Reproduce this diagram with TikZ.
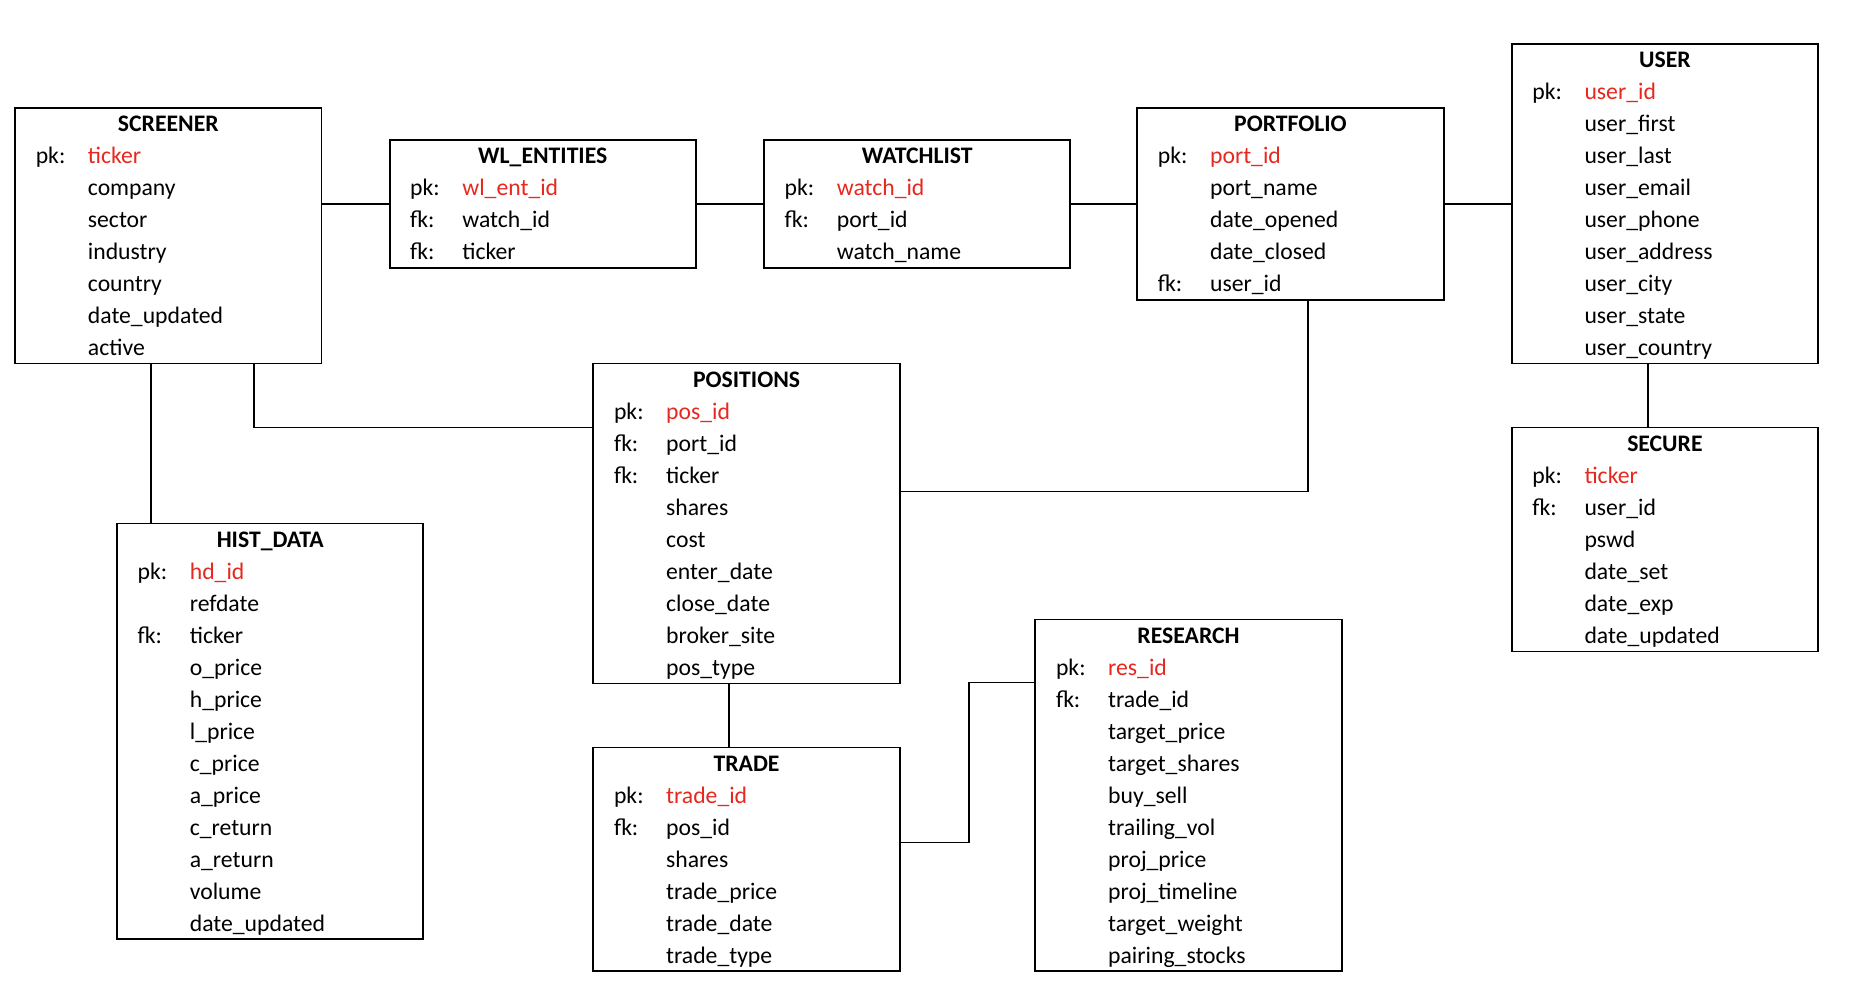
\documentclass[tikz,border=0pt]{standalone}
\usepackage{fontspec}
\setmainfont{Carlito}
\usetikzlibrary{calc}
\definecolor{pkred}{RGB}{230,40,30}
\tikzset{
  tbl/.style={draw, line width=1.6pt, minimum width=258.5pt, inner sep=0pt, anchor=north west},
  ttl/.style={font=\bfseries\fontsize{20}{24}\selectfont, anchor=base, inner sep=0pt},
  fld/.style={font=\fontsize{20}{24}\selectfont, anchor=base west, inner sep=0pt},
  pkf/.style={fld, text=pkred},
  key/.style={fld},
  link/.style={line width=1.6pt},
}
% table box: name, left, top, number of lines (title included), title
\newcommand\ertab[5]{%
  \node[tbl, minimum height={#4*27pt}] (#1) at (#2,-#3) {};
  \node[ttl] (#1-t) at ($(#1.north)+(0,-21)$) {#5};}
% field row: table, row index, key label (may be empty), field name, style
\newcommand\erfld[5]{%
  \node[#5] (#1-#2) at ($(#1.north west)+(62,{-21-27*#2})$) {#4};
  \ifx\relax#3\relax\else\node[key] (#1-k#2) at ($(#1.north west)+(18,{-21-27*#2})$) {#3};\fi}
\begin{document}
\begin{tikzpicture}[x=1pt,y=1pt]
\fill[white] (0,0) rectangle (1568,-834);
\useasboundingbox (0,0) rectangle (1568,-834);

% SCREENER
\ertab{scr}{12}{90}{8}{SCREENER}
\erfld{scr}{1}{pk:}{ticker}{pkf}
\erfld{scr}{2}{}{company}{fld}
\erfld{scr}{3}{}{sector}{fld}
\erfld{scr}{4}{}{industry}{fld}
\erfld{scr}{5}{}{country}{fld}
\erfld{scr}{6}{}{date\_updated}{fld}
\erfld{scr}{7}{}{active}{fld}

% WL_ENTITIES
\ertab{wle}{328}{117}{4}{WL\_ENTITIES}
\erfld{wle}{1}{pk:}{wl\_ent\_id}{pkf}
\erfld{wle}{2}{fk:}{watch\_id}{fld}
\erfld{wle}{3}{fk:}{ticker}{fld}

% WATCHLIST
\ertab{wat}{644}{117}{4}{WATCHLIST}
\erfld{wat}{1}{pk:}{watch\_id}{pkf}
\erfld{wat}{2}{fk:}{port\_id}{fld}
\erfld{wat}{3}{}{watch\_name}{fld}

% PORTFOLIO
\ertab{por}{959}{90}{6}{PORTFOLIO}
\erfld{por}{1}{pk:}{port\_id}{pkf}
\erfld{por}{2}{}{port\_name}{fld}
\erfld{por}{3}{}{date\_opened}{fld}
\erfld{por}{4}{}{date\_closed}{fld}
\erfld{por}{5}{fk:}{user\_id}{fld}

% USER
\ertab{usr}{1275}{36}{10}{USER}
\erfld{usr}{1}{pk:}{user\_id}{pkf}
\erfld{usr}{2}{}{user\_first}{fld}
\erfld{usr}{3}{}{user\_last}{fld}
\erfld{usr}{4}{}{user\_email}{fld}
\erfld{usr}{5}{}{user\_phone}{fld}
\erfld{usr}{6}{}{user\_address}{fld}
\erfld{usr}{7}{}{user\_city}{fld}
\erfld{usr}{8}{}{user\_state}{fld}
\erfld{usr}{9}{}{user\_country}{fld}

% SECURE
\ertab{sec}{1275}{360}{7}{SECURE}
\erfld{sec}{1}{pk:}{ticker}{pkf}
\erfld{sec}{2}{fk:}{user\_id}{fld}
\erfld{sec}{3}{}{pswd}{fld}
\erfld{sec}{4}{}{date\_set}{fld}
\erfld{sec}{5}{}{date\_exp}{fld}
\erfld{sec}{6}{}{date\_updated}{fld}

% POSITIONS
\ertab{pos}{500}{306}{10}{POSITIONS}
\erfld{pos}{1}{pk:}{pos\_id}{pkf}
\erfld{pos}{2}{fk:}{port\_id}{fld}
\erfld{pos}{3}{fk:}{ticker}{fld}
\erfld{pos}{4}{}{shares}{fld}
\erfld{pos}{5}{}{cost}{fld}
\erfld{pos}{6}{}{enter\_date}{fld}
\erfld{pos}{7}{}{close\_date}{fld}
\erfld{pos}{8}{}{broker\_site}{fld}
\erfld{pos}{9}{}{pos\_type}{fld}

% HIST_DATA
\ertab{his}{98}{441}{13}{HIST\_DATA}
\erfld{his}{1}{pk:}{hd\_id}{pkf}
\erfld{his}{2}{}{refdate}{fld}
\erfld{his}{3}{fk:}{ticker}{fld}
\erfld{his}{4}{}{o\_price}{fld}
\erfld{his}{5}{}{h\_price}{fld}
\erfld{his}{6}{}{l\_price}{fld}
\erfld{his}{7}{}{c\_price}{fld}
\erfld{his}{8}{}{a\_price}{fld}
\erfld{his}{9}{}{c\_return}{fld}
\erfld{his}{10}{}{a\_return}{fld}
\erfld{his}{11}{}{volume}{fld}
\erfld{his}{12}{}{date\_updated}{fld}

% TRADE
\ertab{trd}{500}{630}{7}{TRADE}
\erfld{trd}{1}{pk:}{trade\_id}{pkf}
\erfld{trd}{2}{fk:}{pos\_id}{fld}
\erfld{trd}{3}{}{shares}{fld}
\erfld{trd}{4}{}{trade\_price}{fld}
\erfld{trd}{5}{}{trade\_date}{fld}
\erfld{trd}{6}{}{trade\_type}{fld}

% RESEARCH
\ertab{res}{873}{522}{11}{RESEARCH}
\erfld{res}{1}{pk:}{res\_id}{pkf}
\erfld{res}{2}{fk:}{trade\_id}{fld}
\erfld{res}{3}{}{target\_price}{fld}
\erfld{res}{4}{}{target\_shares}{fld}
\erfld{res}{5}{}{buy\_sell}{fld}
\erfld{res}{6}{}{trailing\_vol}{fld}
\erfld{res}{7}{}{proj\_price}{fld}
\erfld{res}{8}{}{proj\_timeline}{fld}
\erfld{res}{9}{}{target\_weight}{fld}
\erfld{res}{10}{}{pairing\_stocks}{fld}

% relationships
\draw[link] (wle.west -| scr.east) -- (wle.west);
\draw[link] (wle.east) -- (wat.west);
\draw[link] (wat.east) -- (wat.east -| por.west);
\draw[link] (por.east) -- (por.east -| usr.west);
\draw[link] ([xshift=-14pt]usr.south) -- ([xshift=-14pt]sec.north);
\draw[link] ([xshift=14.5pt]por.south) |- ([yshift=27pt]pos.east);
\draw[link] ([xshift=72.5pt]scr.south) |- ([yshift=81pt]pos.west);
\draw[link] ([xshift=-14.5pt]scr.south) -- ([xshift=-14.5pt]scr.south |- his.north);
\draw[link] ([xshift=-14.5pt]pos.south) -- ([xshift=-14.5pt]trd.north);
\coordinate (tr-bend) at ($(trd.north east)+(58,-81)$);
\draw[link] ([yshift=-81pt]trd.north east) -- (tr-bend) |- ([yshift=-54pt]res.north west);
\end{tikzpicture}
\end{document}
